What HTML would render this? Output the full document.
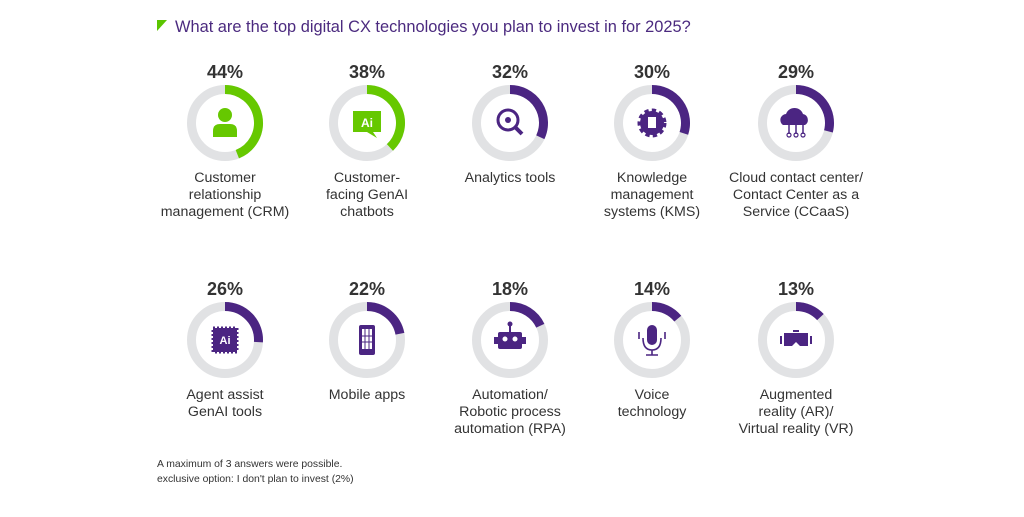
<!DOCTYPE html>
<html><head><meta charset="utf-8"><style>
body{margin:0;background:#fff;width:1024px;height:512px;overflow:hidden;font-family:"Liberation Sans",sans-serif}
</style></head><body>
<svg id="chart" width="1024" height="512" xmlns="http://www.w3.org/2000/svg" font-family="Liberation Sans, sans-serif">
<polygon points="157,20 167,20 157,31" fill="#5bc500"/>
<text x="175" y="32" font-size="16.4" fill="#4b2a7f">What are the top digital CX technologies you plan to invest in for 2025?</text>
<g id="items"></g>
<text x="157" y="467" font-size="10.4" fill="#333">A maximum of 3 answers were possible.</text>
<text x="157" y="482" font-size="10.4" fill="#333">exclusive option: I don't plan to invest (2%)</text>
</svg>
<script>
const categories=[["Customer","relationship","management (CRM)"],["Customer-","facing GenAI","chatbots"],["Analytics tools"],["Knowledge","management","systems (KMS)"],["Cloud contact center/","Contact Center as a","Service (CCaaS)"],["Agent assist","GenAI tools"],["Mobile apps"],["Automation/","Robotic process","automation (RPA)"],["Voice","technology"],["Augmented","reality (AR)/","Virtual reality (VR)"]];
const values=[44,38,32,30,29,26,22,18,14,13];
const iconNames=["person","ai-chat","magnifier","gear","cloud","chip","phone","robot","mic","vr"];
const NS="http://www.w3.org/2000/svg";
const g=document.getElementById('items');
const colX=[225,367,510,652,796], rowY=[123,340];
const R=33.5, W=9;
function mk(t,a,p){const e=document.createElementNS(NS,t);for(const k in a)e.setAttribute(k,a[k]);(p||g).appendChild(e);return e;}
function icon(name,cx,cy,c,p){
 if(name==="person"){mk('circle',{cx:cx,cy:cy-8,r:7,fill:c},p);mk('path',{d:`M${cx-12} ${cy+14}v-6q0-7 7-7h10q7 0 7 7v6z`,fill:c},p);}
 else if(name==="ai-chat"){mk('path',{d:`M${cx-14} ${cy-12}h28v21h-8l4 6-10-6h-14z`,fill:c},p);const t=mk('text',{x:cx,y:cy+4,'text-anchor':'middle','font-size':12,'font-weight':'bold',fill:'#fff'},p);t.textContent='Ai';}
 else if(name==="magnifier"){mk('circle',{cx:cx-2,cy:cy-3,r:10,fill:'none',stroke:c,'stroke-width':3},p);mk('line',{x1:cx+5,y1:cy+4,x2:cx+12,y2:cy+11,stroke:c,'stroke-width':4},p);mk('circle',{cx:cx-2,cy:cy-3,r:3,fill:c},p);}
 else if(name==="gear"){mk('circle',{cx:cx,cy:cy,r:12,fill:c,stroke:c,'stroke-width':5,'stroke-dasharray':'4 3'},p);mk('rect',{x:cx-4,y:cy-6,width:8,height:11,fill:'#fff'},p);}
 else if(name==="cloud"){mk('path',{d:`M${cx-13} ${cy+2}a6 6 0 0 1 3-11a9 9 0 0 1 17 0a6 6 0 0 1 2 11z`,fill:c},p);for(const d of[-7,0,7]){mk('line',{x1:cx+d,y1:cy+2,x2:cx+d,y2:cy+11,stroke:c,'stroke-width':1.5},p);mk('circle',{cx:cx+d,cy:cy+12,r:2,fill:'none',stroke:c,'stroke-width':1.2},p);}}
 else if(name==="chip"){mk('rect',{x:cx-12,y:cy-12,width:24,height:24,fill:c,stroke:c,'stroke-width':3,'stroke-dasharray':'2 2'},p);const t=mk('text',{x:cx,y:cy+4,'text-anchor':'middle','font-size':11,'font-weight':'bold',fill:'#fff'},p);t.textContent='Ai';}
 else if(name==="phone"){mk('rect',{x:cx-8,y:cy-15,width:16,height:30,rx:2,fill:c},p);mk('rect',{x:cx-5,y:cy-11,width:10,height:20,fill:'#fff'},p);mk('path',{d:`M${cx-5} ${cy-4}h10M${cx-5} ${cy+2}h10M${cx-2} ${cy-11}v20M${cx+2} ${cy-11}v20`,stroke:c,'stroke-width':1},p);}
 else if(name==="robot"){mk('line',{x1:cx,y1:cy-15,x2:cx,y2:cy-8,stroke:c,'stroke-width':2},p);mk('circle',{cx:cx,cy:cy-16,r:2.5,fill:c},p);mk('rect',{x:cx-12,y:cy-8,width:24,height:17,rx:2,fill:c},p);mk('rect',{x:cx-16,y:cy-3,width:4,height:7,fill:c},p);mk('rect',{x:cx+12,y:cy-3,width:4,height:7,fill:c},p);mk('circle',{cx:cx-5,cy:cy-1,r:2.5,fill:'#fff'},p);mk('circle',{cx:cx+5,cy:cy-1,r:2.5,fill:'#fff'},p);}
 else if(name==="mic"){mk('rect',{x:cx-5,y:cy-15,width:10,height:20,rx:5,fill:c},p);mk('path',{d:`M${cx-9} ${cy-2}q0 12 9 12q9 0 9-12M${cx} ${cy+10}v5M${cx-6} ${cy+15}h12M${cx-13} ${cy-8}v7M${cx+13} ${cy-8}v7`,fill:'none',stroke:c,'stroke-width':1.6},p);}
 else if(name==="vr"){mk('path',{d:`M${cx-12} ${cy-7}h24v13h-8l-4-4l-4 4h-8z`,fill:c},p);mk('rect',{x:cx-16,y:cy-4,width:2,height:8,fill:c},p);mk('rect',{x:cx+14,y:cy-4,width:2,height:8,fill:c},p);mk('rect',{x:cx-3,y:cy-10,width:6,height:2,fill:c},p);}
}
values.forEach((v,i)=>{
 const cx=colX[i%5], cy=rowY[Math.floor(i/5)];
 const col=i<2?'#66c800':'#4b2582';
 const grp=mk('g',{});
 
 
 mk('circle',{cx:cx,cy:cy,r:R,fill:'none',stroke:'#e1e2e4','stroke-width':W},grp);
 const a=v/100*2*Math.PI, x2=cx+R*Math.sin(a), y2=cy-R*Math.cos(a);
 const arc=mk('path',{d:`M${cx} ${cy-R}A${R} ${R} 0 ${v>50?1:0} 1 ${x2} ${y2}`,fill:'none',stroke:col,'stroke-width':W},grp);
 
 
 icon(iconNames[i],cx,cy,col,grp);
 const pt=mk('text',{x:cx,y:cy-45,'text-anchor':'middle','font-size':18,'font-weight':'bold',fill:'#333'},grp);
 pt.textContent=v+'%';
 
 
 categories[i].forEach((line,j)=>{
  const t=mk('text',{x:cx,y:cy+59+j*17,'text-anchor':'middle','font-size':14.2,fill:'#333'},grp);
  t.textContent=line;
  
  
 });
});
</script>
</body></html>
